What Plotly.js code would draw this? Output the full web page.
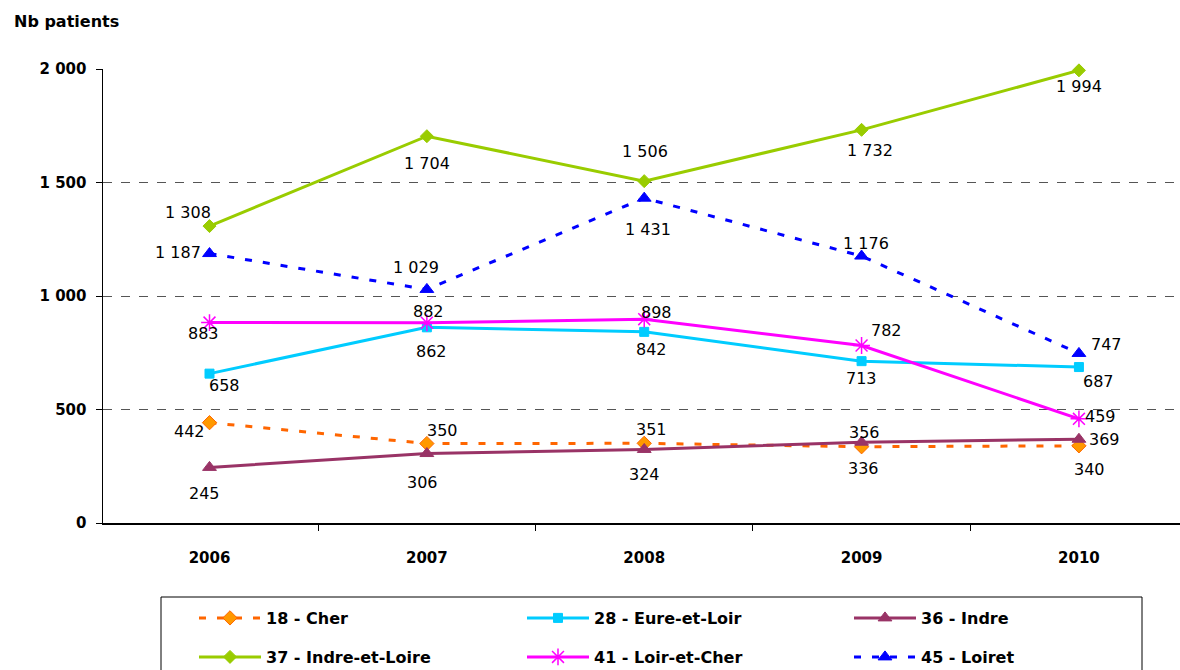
<!DOCTYPE html>
<html>
<head>
<meta charset="utf-8">
<script src="https://cdn.plot.ly/plotly-3.0.1.min.js"></script>
<style>
  html, body { margin: 0; padding: 0; background: #fff; }
  #chart { width: 1180px; height: 670px; }
</style>
</head>
<body>
<div id="chart"></div>
<script>
// ===================== DATA =====================
const years = ['2006', '2007', '2008', '2009', '2010'];

const cher         = [442, 350, 351, 336, 340];      // 18 - Cher
const eureEtLoir   = [658, 862, 842, 713, 687];      // 28 - Eure-et-Loir
const indre        = [245, 306, 324, 356, 369];      // 36 - Indre
const indreEtLoire = [1308, 1704, 1506, 1732, 1994]; // 37 - Indre-et-Loire
const loirEtCher   = [883, 882, 898, 782, 459];      // 41 - Loir-et-Cher
const loiret       = [1187, 1029, 1431, 1176, 747];  // 45 - Loiret

const yTickVals = [0, 500, 1000, 1500, 2000];
const yTickText = ['0', '500', '1 000', '1 500', '2 000'];

// ===================== LABEL OFFSETS =====================
// pixel offset of each value label from its point [dx, dy] (dy down)
const cherOff         = [[-20, 9], [16, -13], [7, -14], [2, 22], [11, 24]];
const eureEtLoirOff   = [[15, 12], [5, 24], [7, 18], [0, 17], [20, 14]];
const indreOff        = [[-5, 26], [-4, 29], [0, 25], [3, -10], [26, 0]];
const indreEtLoireOff = [[-22, -14], [0, 27], [1, -30], [8, 21], [0, 16]];
const loirEtCherOff   = [[-6, 11], [2, -11], [12, -7], [25, -15], [22, -2]];
const loiretOff       = [[-32, -1], [-11, -22], [4, 31], [4, -13], [28, -9]];

// ===================== HELPERS =====================
// French style thousands separator ("1 994")
function fmt(v) {
    return String(v).replace(/\B(?=(\d{3})+(?!\d))/g, ' ');
}

const labelFont = { family: 'DejaVu Sans, sans-serif', size: 16, color: '#000' };
const boldFont  = { family: 'DejaVu Sans, sans-serif', size: 15, color: '#000', weight: 'bold' };
const legendFont = { family: 'DejaVu Sans, sans-serif', size: 16, color: '#000', weight: 'bold' };

const dashed = '7px,11px';

function series(name, values, color, dash, symbol, msize, legendId, fill) {
    return {
        x: years,
        y: values,
        name: name,
        type: 'scatter',
        mode: 'lines+markers',
        line: { color: color, width: 3, dash: dash },
        marker: { color: fill || color, symbol: symbol, size: msize,
                  line: { color: color, width: symbol === 'asterisk-open' ? 1.5 : 1 } },
        cliponaxis: false,
        legend: legendId
    };
}

// value labels placed on the data points (category index), shifted by pixel offsets
function valueLabels(values, offsets) {
    return values.map((v, i) => ({
        xref: 'x', yref: 'y',
        x: i, y: v,
        text: fmt(v),
        showarrow: false,
        xanchor: 'center', yanchor: 'middle',
        xshift: offsets[i][0], yshift: -offsets[i][1],
        font: labelFont
    }));
}

const traces = [
    series('18 - Cher', cher, '#FF6600', dashed, 'diamond', 11, 'legend', '#FF9900'),
    series('28 - Eure-et-Loir', eureEtLoir, '#00CCFF', 'solid', 'square', 9, 'legend2'),
    series('36 - Indre', indre, '#993366', 'solid', 'triangle-up', 12, 'legend3'),
    series('37 - Indre-et-Loire', indreEtLoire, '#99CC00', 'solid', 'diamond', 10, 'legend4'),
    series('41 - Loir-et-Cher', loirEtCher, '#FF00FF', 'solid', 'asterisk-open', 14, 'legend5'),
    series('45 - Loiret', loiret, '#0000FF', dashed, 'triangle-up', 12, 'legend6')
];

// ===================== LAYOUT =====================
function legendAt(px, py) {
    return {
        orientation: 'h',
        xref: 'container', yref: 'container',
        xanchor: 'left', yanchor: 'middle',
        x: px / 1180, y: 1 - py / 670,
        itemwidth: 62,
        bgcolor: 'rgba(0,0,0,0)',
        font: legendFont
    };
}

const annotations = [].concat(
    valueLabels(cher, cherOff),
    valueLabels(eureEtLoir, eureEtLoirOff),
    valueLabels(indre, indreOff),
    valueLabels(indreEtLoire, indreEtLoireOff),
    valueLabels(loirEtCher, loirEtCherOff),
    valueLabels(loiret, loiretOff)
);

annotations.push({
    text: 'Nb patients',
    xref: 'paper', yref: 'paper',
    x: (12 - 103) / 1077, y: (523 - 22) / 454,
    xanchor: 'left', yanchor: 'middle',
    showarrow: false,
    font: legendFont
});

const layout = {
    width: 1180,
    height: 670,
    margin: { l: 103, r: 0, t: 69, b: 147 },
    paper_bgcolor: '#fff',
    plot_bgcolor: '#fff',
    showlegend: true,
    xaxis: {
        type: 'category',
        range: [-0.49, 4.465],
        showline: true, linecolor: '#000', linewidth: 1.5,
        ticks: 'outside', ticklen: 6, tickcolor: '#000',
        tickson: 'boundaries',
        showgrid: false,
        tickfont: boldFont,
        ticklabelstandoff: 20
    },
    yaxis: {
        range: [0, 2000],
        tickvals: yTickVals,
        ticktext: yTickText,
        showline: true, linecolor: '#000', linewidth: 1.5,
        ticks: 'outside', ticklen: 6, tickcolor: '#000',
        showgrid: true, gridcolor: '#555', griddash: 'dash', gridwidth: 1,
        zeroline: false,
        tickfont: boldFont,
        ticklabelstandoff: 6
    },
    legend:  legendAt(194, 618),
    legend2: legendAt(522, 618),
    legend3: legendAt(849, 618),
    legend4: legendAt(194, 657),
    legend5: legendAt(522, 657),
    legend6: legendAt(849, 657),
    annotations: annotations,
    shapes: [{
        // legend frame
        type: 'rect', xref: 'paper', yref: 'paper',
        x0: (161 - 103) / 1077, x1: (1142 - 103) / 1077,
        y0: (523 - 700) / 454, y1: (523 - 597) / 454,
        line: { color: '#000', width: 1 },
        fillcolor: 'rgba(0,0,0,0)'
    }]
};

Plotly.newPlot('chart', traces, layout, { displayModeBar: false, staticPlot: true });
</script>
</body>
</html>
